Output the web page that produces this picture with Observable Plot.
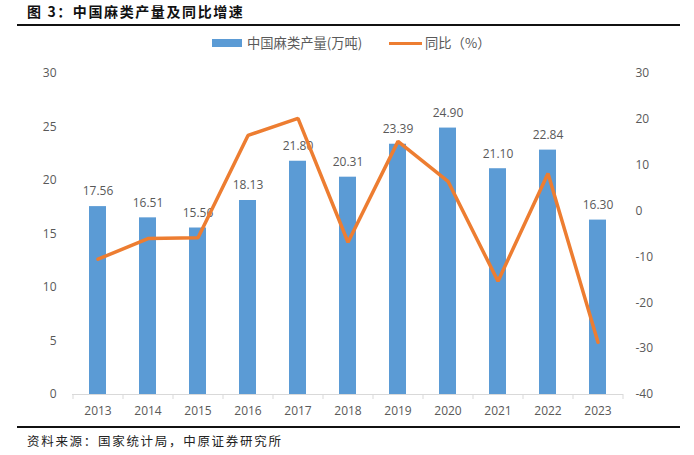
<!DOCTYPE html>
<html><head><meta charset="utf-8">
<script src="https://cdn.jsdelivr.net/npm/d3@7"></script>
<script src="https://cdn.jsdelivr.net/npm/@observablehq/plot@0.6"></script>
<style>
body{margin:0;background:#fff;}
#wrap{position:relative;width:694px;height:455px;overflow:hidden;background:#fff;font-family:"Noto Sans CJK SC","Noto Sans",sans-serif;}
#title{position:absolute;left:27px;top:1px;font-size:14px;font-weight:bold;letter-spacing:1.6px;color:#111;line-height:20px;}
.rule{position:absolute;left:17px;width:663px;height:2px;background:#111;}
.lg{position:absolute;font-size:13.3px;color:#595959;line-height:16px;}
#chart{position:absolute;left:0;top:55px;}
#source{position:absolute;left:27px;top:432px;font-size:12.5px;letter-spacing:1.7px;color:#222;line-height:18px;}
</style></head>
<body><div id="wrap">
<div id="title">图 3：中国麻类产量及同比增速</div>
<div class="rule" style="top:24px"></div>
<div style="position:absolute;left:212px;top:39px;width:30px;height:8px;background:#5B9BD5"></div>
<div class="lg" style="left:247px;top:35px">中国麻类产量(万吨)</div>
<div style="position:absolute;left:389px;top:42px;width:33px;height:3px;background:#ED7D31"></div>
<div class="lg" style="left:425px;top:35px">同比（%）</div>
<div id="chart"></div>
<div class="rule" style="top:426px"></div>
<div id="source">资料来源：国家统计局，中原证券研究所</div>
</div>
<script>
const years = ["2013","2014","2015","2016","2017","2018","2019","2020","2021","2022","2023"];
const output = [17.56,16.51,15.56,18.13,21.80,20.31,23.39,24.90,21.10,22.84,16.30];
const yoy = [-10.5,-6.0,-5.8,16.5,20.2,-6.8,15.2,6.5,-15.3,8.2,-28.6];
const leftTicks = [0,5,10,15,20,25,30];
const rightTicks = [-40,-30,-20,-10,0,10,20,30];
const leftDomain = [0,30];
const rightDomain = [-40,30];

const toLeft = v => leftDomain[0] + (v - rightDomain[0]) * (leftDomain[1]-leftDomain[0])/(rightDomain[1]-rightDomain[0]);
const toRight = v => rightDomain[0] + (v - leftDomain[0]) * (rightDomain[1]-rightDomain[0])/(leftDomain[1]-leftDomain[0]);
const data = years.map((year,i)=>({year, output: output[i], yoy: yoy[i]}));
const gray = "#595959";

const chart = Plot.plot({
  width: 694, height: 370,
  marginTop: 18, marginBottom: 31, marginLeft: 72, marginRight: 71,
  style: {fontFamily: "'Open Sans', 'Noto Sans', sans-serif", fontSize: "12px", background: "transparent"},
  x: {domain: years, paddingInner: 0.66, paddingOuter: 0.33, axis: null},
  y: {domain: leftDomain, axis: null},
  marks: [
    Plot.ruleY([0], {stroke: "#d9d9d9"}),
    Plot.ruleX(years, {x: d => d, dx: -25, y1: 0, y2: -0.47, stroke: "#d9d9d9", clip: false}),
    Plot.ruleX([years[years.length-1]], {x: d => d, dx: 25, y1: 0, y2: -0.47, stroke: "#d9d9d9"}),
    Plot.barY(data, {x: "year", y: "output", fill: "#5B9BD5"}),
    Plot.text(data, {x: "year", y: "output", text: d => d.output.toFixed(2), dy: -15, fill: gray, fontSize: 12}),
    Plot.line(data, {x: "year", y: d => toLeft(d.yoy), stroke: "#ED7D31", strokeWidth: 3.5, strokeLinejoin: "miter"}),
    Plot.axisY(leftTicks, {anchor: "left", tickSize: 0, tickPadding: 16, label: null, color: gray, fontSize: 12}),
    Plot.axisY(rightTicks.map(toLeft), {anchor: "right", tickSize: 0, tickPadding: 12, label: null, color: gray, fontSize: 12,
      tickFormat: d => `${Math.round(toRight(d))}`}),
    Plot.axisX({tickSize: 0, tickPadding: 12, label: null, color: gray, fontSize: 12})
  ]
});
document.getElementById("chart").appendChild(chart);
</script>
</body></html>
